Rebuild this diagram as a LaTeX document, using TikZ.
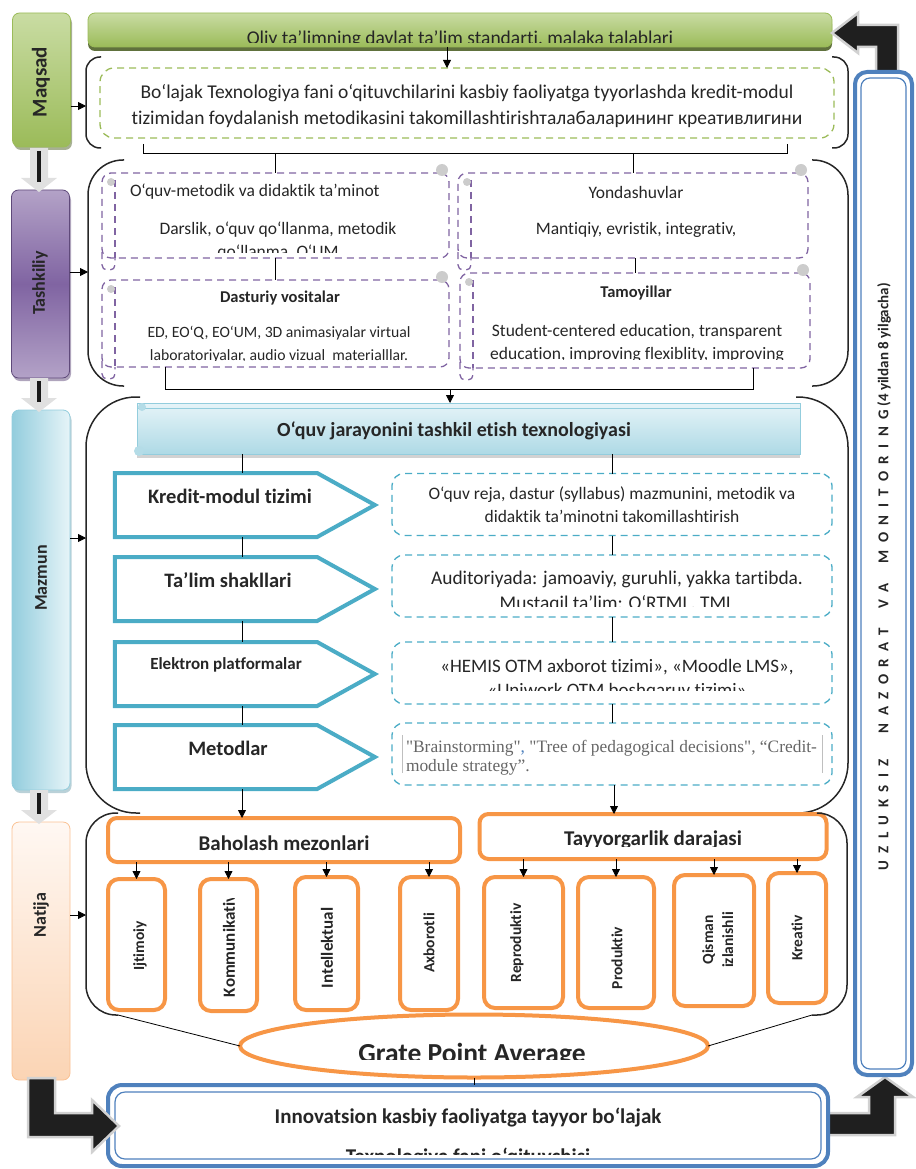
\documentclass[tikz,border=0pt]{standalone}
\usepackage{fontspec}
\usepackage{graphicx}
\setmainfont{Carlito}[Ligatures = {TeX, NoCommon}]
\newfontfamily\tnr{Liberation Serif}
\usetikzlibrary{shapes.geometric,shapes.symbols,arrows.meta,shadows,positioning}

\definecolor{ogreen}{HTML}{9BBB59}
\definecolor{ogreenL}{HTML}{C9DCA3}
\definecolor{ogreenD}{HTML}{4F6228}
\definecolor{opurple}{HTML}{8064A2}
\definecolor{opurpleL}{HTML}{B3A2C7}
\definecolor{opurpleD}{HTML}{5F497A}
\definecolor{oaqua}{HTML}{93CDDD}
\definecolor{oaquaL}{HTML}{E6F4F8}
\definecolor{oteal}{HTML}{4BACC6}
\definecolor{opeach}{HTML}{FBD4B4}
\definecolor{opeachL}{HTML}{FFF8F3}
\definecolor{oorange}{HTML}{F79646}
\definecolor{oblue}{HTML}{4F81BD}

\begin{document}
\begin{tikzpicture}
[
    x = 1pt, y = -1pt,
    every node/.style = {inner sep = 0pt, outer sep = 0pt},
    side/.style = {rounded corners = 7pt, line width = 0.8pt, minimum width = 58pt},
    sidetext/.style = {font = \fontsize{18}{20}\selectfont\bfseries, text = black!85},
    brk/.style = {line width = 1.5pt, black!85},
    arr/.style = {-{Triangle[width = 8pt, length = 8pt]}, line width = 0.8pt},
    link/.style = {line width = 0.8pt},
    body/.style = {font = \fontsize{19.5}{26}\selectfont, text = black!85, align = center},
    plain/.style = {font = \fontsize{19.5}{22}\selectfont, text = black!85},
    scroll/.style = {draw = opurple, dash pattern = on 7pt off 5pt, line width = 1.3pt, rounded corners = 9pt},
    ptext/.style = {font = \fontsize{17.5}{23}\selectfont, text = black!85, align = center},
    ptitle/.style = {font = \fontsize{16.5}{18}\selectfont\bfseries, text = black!85},
    stage/.style = {signal, signal to = east, signal pointer angle = 58, draw = oteal, line width = 4pt, fill = white, minimum width = 260pt, minimum height = 64pt},
    stagetext/.style = {font = \fontsize{20.5}{22}\selectfont\bfseries, text = black!85},
    note/.style = {draw = oteal, dash pattern = on 7pt off 5pt, line width = 1.3pt, rounded corners = 12pt, minimum width = 440pt, minimum height = 62pt},
    crit/.style = {draw = oorange, line width = 4pt, rounded corners = 9pt, fill = white},
    crittext/.style = {font = \fontsize{21}{24}\selectfont\bfseries, text = black!85},
    lvl/.style = {draw = oorange, line width = 4pt, rounded corners = 11pt, fill = white},
    lvltext/.style = {font = \fontsize{15.5}{20}\selectfont\bfseries, text = black!85},
    frame/.style = {draw = oblue, line width = 4pt, fill = white},
    blockarrow/.style = {fill = black!88, draw = black!18, line width = 2.5pt, line join = miter},
]
\useasboundingbox (0,0) rectangle (915,1169);

\node[side, top color = ogreenL, bottom color = ogreen, draw = ogreen, drop shadow = {fill = ogreenD, shadow xshift = 1.5pt, shadow yshift = -3pt}, minimum height = 134pt] (maqsad) at (41.5,80) {};
\node[sidetext, font = \fontsize{21}{22}\selectfont\bfseries] (maqsadt) at (41,82) {\rotatebox{90}{Maqsad}};
\node[side, top color = opurpleL, bottom color = opurpleL, middle color = opurple, draw = opurpleD, drop shadow = {fill = opurpleD, shadow xshift = 1.5pt, shadow yshift = -3pt}, minimum height = 188pt] (tash) at (40.5,284) {};
\node[sidetext] (tasht) at (40,283) {\rotatebox{90}{Tashkiliy}};
\node[side, left color = oaqua, right color = oaquaL, draw = oaqua, drop shadow = {fill = oaqua!80!black, shadow xshift = 1.5pt, shadow yshift = -3pt}, minimum height = 380pt] (mazmun) at (41,600) {};
\node[sidetext] (mazmunt) at (41,578) {\rotatebox{90}{Mazmun}};
\node[side, top color = opeachL, bottom color = opeach, draw = opeach!70!oorange, minimum height = 258pt] (natija) at (41,951) {};
\node[sidetext] (natijat) at (41,915) {\rotatebox{90}{Natija}};

\foreach \ya/\yb in {148/192, 378/412, 790/824}
{
    \fill[black!12] (30,\ya) -- (48,\ya) -- (48,\yb-14) -- (57,\yb-14) -- (39,\yb) -- (21,\yb-14) -- (30,\yb-14) -- cycle;
    \draw[line width = 4.5pt, black!90] (39,\ya+3) -- (39,\yb-10);
}

\node[rounded corners = 7pt, top color = ogreenL, bottom color = ogreen, draw = ogreen, line width = 0.8pt, drop shadow = {fill = ogreenD, opacity = 0.9, shadow xshift = 0pt, shadow yshift = -4pt}, minimum width = 744pt, minimum height = 34pt] (gos) at (460,30) {};
\begin{scope}
    \clip (88,13) rectangle (832,42.5);
    \node[plain, anchor = base] (gost) at (460,45) {Oliy ta’limning davlat ta’lim standarti, malaka talablari};
\end{scope}

\node[draw = ogreen, dash pattern = on 7pt off 5pt, line width = 1.3pt, rounded corners = 14pt, minimum width = 734pt, minimum height = 70pt] (tgoal) at (467,103) {};
\node[body] (tgoalt) at (467,106) {Bo‘lajak Texnologiya fani o‘qituvchilarini kasbiy faoliyatga tyyorlashda kredit-modul\\tizimidan foydalanish metodikasini takomillashtirishталабаларининг креативлигини};

\draw[arr] (gos.south -| 447,0) -- (tgoal.north -| 447,0);
\draw[brk, rounded corners = 14pt] (101,57) -- (86,57) -- (86,148) -- (101,148);
\draw[brk, rounded corners = 14pt] (832,57) -- (848,57) -- (848,148) -- (832,148);
\draw[arr] (maqsad.east |- 0,106) -- (86,106);

\node[scroll, minimum width = 347pt, minimum height = 85pt] (tmet) at (275.5,215.5) {};
\node[scroll, minimum width = 350pt, minimum height = 85pt] (tyon) at (633,215.5) {};
\node[scroll, minimum width = 347pt, minimum height = 87pt] (tdas) at (275.5,323.5) {};
\node[scroll, minimum width = 350pt, minimum height = 95pt] (ttam) at (635,320.5) {};
\foreach \b in {tmet, tyon, tdas, ttam}
{
    \draw[scroll, rounded corners = 5pt] ([xshift = 13pt, yshift = -7pt]\b.north west) -- ([xshift = 13pt]\b.south west);
    \draw[scroll, rounded corners = 5pt] ([yshift = 6pt]\b.south west) -- ([yshift = -12pt]\b.south west) -- ([xshift = 13pt, yshift = -12pt]\b.south west) -- ([xshift = 13pt]\b.south west);
    \fill[black!20] ([xshift = -7pt, yshift = 3pt]\b.north east) circle (6pt);
    \fill[black!20] ([xshift = 9pt, yshift = -9pt]\b.north west) circle (4pt);
}

\node[ptext, anchor = west] (tmet1) at (130,192) {O‘quv-metodik va didaktik ta’minot};
\begin{scope}
    \clip (102,173) rectangle (449,252);
    \node[ptext] (tmet2) at (278,241.5) {Darslik, o‘quv qo‘llanma, metodik\\qo‘llanma, O‘UM};
\end{scope}
\node[ptext] (tyon1) at (636,192) {Yondashuvlar};
\node[ptext] (tyon2) at (636,230) {Mantiqiy, evristik, integrativ,};
\node[ptitle] (tdas1) at (280,298) {Dasturiy vositalar};
\begin{scope}
    \clip (102,280) rectangle (449,360);
    \node[ptext, font = \fontsize{15.7}{23}\selectfont] (tdas2) at (279,344.5) {ED, EO‘Q, EO‘UM, 3D animasiyalar virtual\\laboratoriyalar, audio vizual\ \ materialllar.};
\end{scope}
\node[ptitle] (ttam1) at (636,293) {Tamoyillar};
\begin{scope}
    \clip (460,273) rectangle (810,359.5);
    \node[ptext, font = \fontsize{17.5}{23}\selectfont] (ttam2) at (637,343.5) {Student-centered education, transparent\\education, improving flexiblity, improving};
\end{scope}

\draw[link] (143,144) -- (143,153) -- (787,153) -- (787,144);
\draw[link] (tmet.north |- 0,153) -- (tmet.north);
\draw[link] (tyon.north |- 0,153) -- (tyon.north);
\draw[link] (tmet) -- (tdas);
\draw[link] (tyon.south -| 635,0) -- (ttam.north -| 635,0);
\draw[brk, rounded corners = 35pt] (124,160) -- (88,160) -- (88,386) -- (124,386);
\draw[brk, rounded corners = 35pt] (812,160) -- (848,160) -- (848,386) -- (812,386);
\draw[arr] (tash.east |- 0,272) -- (88,272);

\node[top color = oaquaL, bottom color = oaqua!75, draw = oaqua, line width = 1pt, drop shadow = {fill = black!35, shadow xshift = 0pt, shadow yshift = -4pt}, minimum width = 663pt, minimum height = 51pt] (ttitle) at (468.5,428.5) {};
\draw[oaqua, line width = 0.8pt] ([yshift = -5pt]ttitle.north west) -- ([yshift = -5pt]ttitle.north east);
\fill[oaqua!70] ([xshift = 5pt, yshift = -4pt]ttitle.north west) circle (4pt);
\fill[oaqua!70] ([xshift = 2pt, yshift = 3pt]ttitle.south west) circle (5pt);
\node[stagetext, font = \fontsize{20}{22}\selectfont\bfseries] (ttitlet) at (454,431) {O‘quv jarayonini tashkil etish texnologiyasi};
\draw[link] (tdas.south -| 165,0) -- (165,389) -- (753,389) -- (ttam.south -| 753,0);
\draw[arr] (450,389) -- (ttitle.north -| 450,0);

\draw[brk, rounded corners = 50pt] (140,397) -- (86,397) -- (86,813) -- (140,813);
\draw[brk, rounded corners = 50pt] (796,397) -- (848,397) -- (848,813) -- (792,813);
\draw[arr] (mazmun.east |- 0,538) -- (86,538);

\node[stage] (kredit) at (216,505) {};
\node[stage] (talim) at (216,589) {};
\node[stage] (elektron) at (216,674) {};
\node[stage] (metod) at (216,757) {};
\node[stagetext] (kreditt) at (230,496) {Kredit-modul tizimi};
\node[stagetext] (talimt) at (228,580) {Ta’lim shakllari};
\node[stagetext, font = \fontsize{17}{20}\selectfont\bfseries] (elektront) at (226,665) {Elektron platformalar};
\node[stagetext] (metodt) at (228,748) {Metodlar};

\node[note] (r1) at (612,504.5) {};
\node[note] (r2) at (612,586) {};
\node[note] (r3) at (612,673) {};
\node[note] (r4) at (612,754) {};
\node[ptext] (r1t) at (612,504.5) {O‘quv reja, dastur (syllabus) mazmunini, metodik va\\didaktik ta’minotni takomillashtirish};
\begin{scope}
    \clip (390,555) rectangle (834,606);
    \node[ptext, font = \fontsize{19.4}{25}\selectfont] (r2t) at (617,591.5) {Auditoriyada: jamoaviy, guruhli, yakka tartibda.\\Mustaqil ta’lim: O‘RTML, TML};
\end{scope}
\begin{scope}
    \clip (390,642) rectangle (834,690.5);
    \node[ptext, font = \fontsize{19}{24}\selectfont] (r3t) at (617,679) {«HEMIS OTM axborot tizimi», «Moodle LMS»,\\«Uniwork OTM boshqaruv tizimi»};
\end{scope}
\node[anchor = north west, font = \tnr\fontsize{17.4}{19}\selectfont, text = black!60, align = left] (r4t) at (406,740) {"Brainstorming"{\color{oblue},} "Tree of pedagogical decisions", “Credit-\\module strategy”.};
\draw[black!25, line width = 0.6pt] (402,735) -- (402,773);
\draw[black!25, line width = 0.6pt] (822,735) -- (822,773);

\draw[link] (ttitle.south -| 242,0) -- (kredit.north -| 242,0);
\foreach \a/\b in {kredit/talim, talim/elektron, elektron/metod}
    \draw[link] (\a.south -| 242,0) -- (\b.north -| 242,0);
\draw[link] (ttitle.south -| r1.north) -- (r1.north);
\foreach \a/\b in {r1/r2, r2/r3, r3/r4}
    \draw[link] (\a) -- (\b);

\node[crit, minimum width = 352pt, minimum height = 44pt] (baho) at (284,840) {};
\node[crittext] (bahot) at (284,843) {Baholash mezonlari};
\node[crit, minimum width = 347pt, minimum height = 45pt] (tayyor) at (653,836.5) {};
\begin{scope}
    \clip (480,814) rectangle (826,846);
    \node[crittext, anchor = base] (tayyort) at (653,845.5) {Tayyorgarlik darajasi};
\end{scope}
\draw[arr] (metod.south -| 242,0) -- (baho.north -| 242,0);
\draw[arr] (r4.south -| 614,0) -- (tayyor.north -| 614,0);

\foreach \n/\cx/\cy/\w/\h in {ijt/136.5/944.5/57/131, kom/228.5/945/57/132, int/326.5/943.5/63/133, axb/429/943.5/58/133, rep/523.5/942.5/79/131, pro/616/942.5/76/131, qis/714/940.5/80/131, kre/797/938/58/130}
    \node[lvl, minimum width = \w pt, minimum height = \h pt] (\n) at (\cx,\cy) {};
\foreach \n in {ijt, kom, int, axb}
    \draw[arr] (\n.north |- baho.south) -- (\n.north);
\foreach \n in {rep, pro, qis, kre}
    \draw[arr] (\n.north |- tayyor.south) -- (\n.north);

\node[lvltext] (ijtt) at (140,946) {\rotatebox{90}{Ijtimoiy}};
\begin{scope}
    \clip (200,898) rectangle (257,1011);
    \node[lvltext, font = \fontsize{17}{20}\selectfont\bfseries, anchor = south] (komt) at (229,997) {\rotatebox{90}{Kommunikativ}};
\end{scope}
\begin{scope}
    \clip (295,901) rectangle (358,1010);
    \node[lvltext, font = \fontsize{17}{20}\selectfont\bfseries, anchor = south] (intt) at (327,988) {\rotatebox{90}{Intellektual}};
\end{scope}
\node[lvltext] (axbt) at (429,943) {\rotatebox{90}{Axborotli}};
\node[lvltext] (rept) at (517,943) {\rotatebox{90}{Reproduktiv}};
\node[lvltext] (prot) at (617,958) {\rotatebox{90}{Produktiv}};
\begin{scope}
    \clip (674,875) rectangle (732,1006);
    \node[lvltext] (qist) at (719,940) {\rotatebox{90}{\begin{tabular}{@{}c@{}}Qisman\\izlanishli\end{tabular}}};
\end{scope}
\node[lvltext] (kret) at (797,938) {\rotatebox{90}{Kreativ}};

\node[ellipse, draw = oorange, line width = 4pt, fill = white, minimum width = 468pt, minimum height = 63pt] (gpa) at (474,1046) {};
\begin{scope}
    \clip (300,1020) rectangle (650,1059);
    \node[font = \fontsize{27.5}{30}\selectfont\bfseries, text = black!85, anchor = base] (gpat) at (472,1062) {Grate Point Average};
\end{scope}
\draw[brk, rounded corners = 30pt] (118,813) -- (86,813) -- (86,1015) -- (118,1015);
\draw[link] (118,1015) -- (gpa.west);
\draw[brk, rounded corners = 30pt] (822,813) -- (847,813) -- (847,1015) -- (812,1015);
\draw[link] (812,1015) -- (gpa.east);
\draw[arr] (natija.east |- 0,915) -- (86,915);

\filldraw[blockarrow] (876,74) -- (876,47) -- (858,47) -- (858,53) -- (832,33) -- (858,13) -- (858,25) -- (898,25) -- (898,74) -- cycle;
\filldraw[blockarrow] (828,1113) -- (869,1113) -- (869,1097) -- (857,1097) -- (885,1077) -- (913,1097) -- (895,1097) -- (895,1135) -- (828,1135) -- cycle;

\node[frame, rounded corners = 12pt, minimum width = 57pt, minimum height = 1003pt] (monit) at (883.5,573.5) {};
\draw[oblue, line width = 1.2pt, rounded corners = 9pt] ([shift = {(6pt,6pt)}]monit.south west) rectangle ([shift = {(-6pt,-6pt)}]monit.north east);
\node[font = \fontsize{15}{17}\selectfont\bfseries, text = black!85] (monitt) at (884,577) {\rotatebox{90}{{\addfontfeature{LetterSpace = 50}UZLUKSIZ\hspace{26pt}NAZORAT\hspace{20pt}VA\hspace{20pt}MONITORING} (4 yildan 8 yilgacha)}};

\node[frame, rounded corners = 14pt, minimum width = 720pt, minimum height = 81pt] (innov) at (468,1125.5) {};
\draw[oblue, line width = 1.2pt, rounded corners = 10pt] ([shift = {(7pt,7pt)}]innov.south west) rectangle ([shift = {(-7pt,-7pt)}]innov.north east);
\begin{scope}
    \clip (120,1090) rectangle (816,1154);
    \node[font = \fontsize{21}{40}\selectfont\bfseries, text = black!85, align = center] (innovt) at (468,1138) {Innovatsion kasbiy faoliyatga tayyor bo‘lajak\\Texnologiya fani o‘qituvchisi};
\end{scope}
\draw[link] (gpa.south) -- (gpa.south |- innov.north);

\filldraw[blockarrow] (28,1078) -- (55,1078) -- (55,1113) -- (92,1113) -- (92,1100) -- (119,1126) -- (92,1152) -- (92,1137) -- (28,1137) -- cycle;
\end{tikzpicture}
\end{document}
